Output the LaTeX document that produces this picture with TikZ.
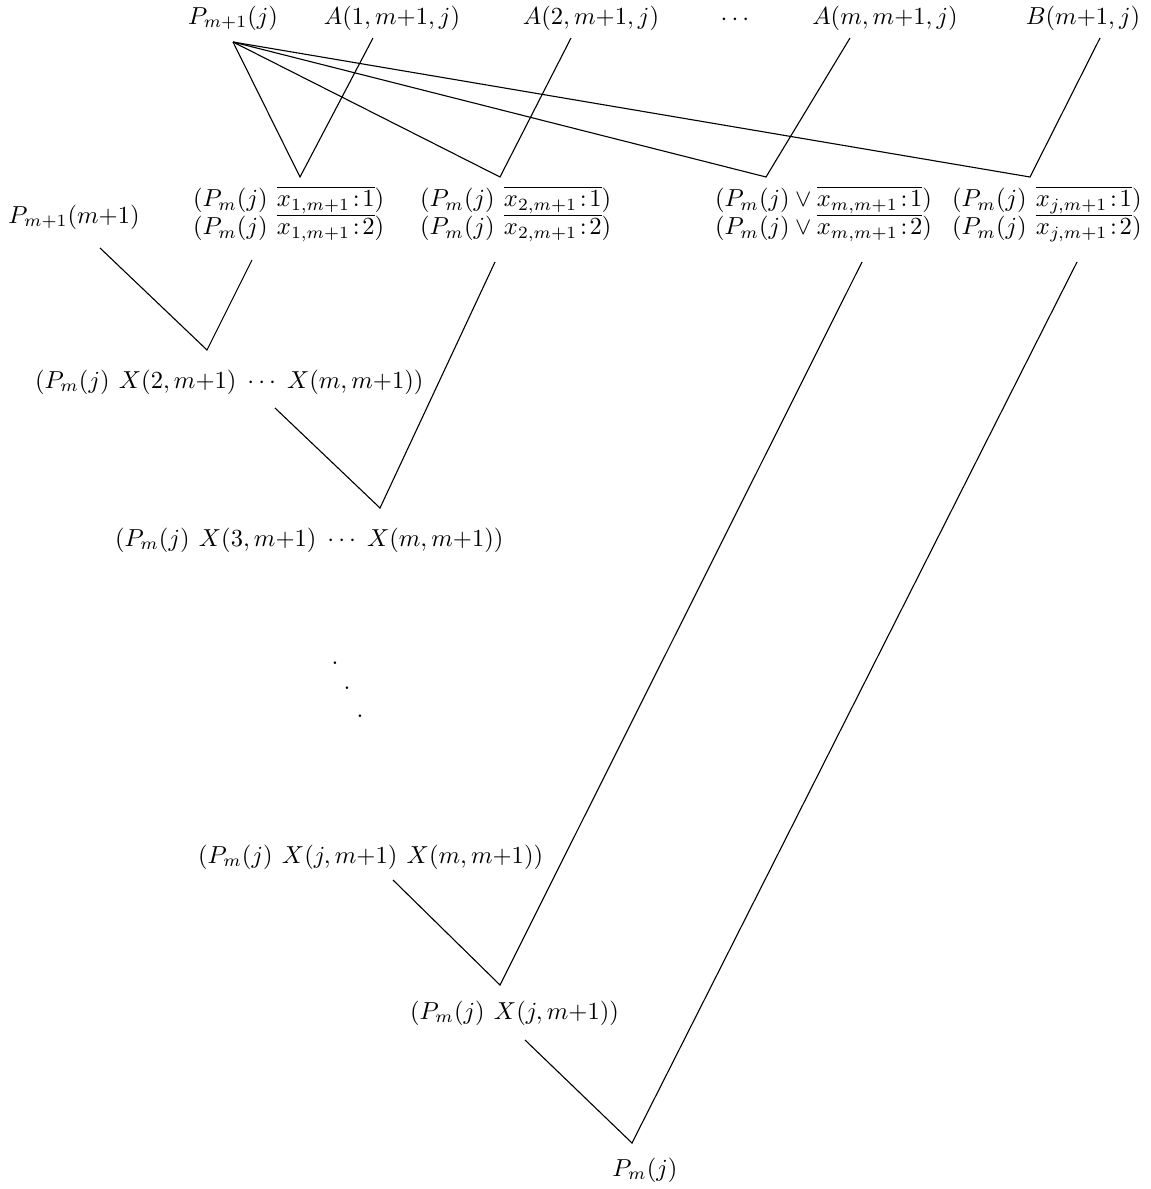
\documentclass[tikz,border=0pt]{standalone}
\newcommand\vgap{\hspace{3.8pt}}
\newcommand\clr{\mkern2mu{:}\mkern2mu}
\begin{document}
\begin{tikzpicture}[x=0.407pt,y=-0.407pt,
  lbl/.style={inner sep=0pt,outer sep=0pt},
  edge/.style={line width=0.45pt}]
\useasboundingbox (0,0) rectangle (1150,1189);
% top row
\node[lbl] (P1j) at (233,18) {$P_{m+1}(j)$};
\node[lbl] (A1) at (392,18) {$A(1,m{+}1,j)$};
\node[lbl] (A2) at (591,18) {$A(2,m{+}1,j)$};
\node[lbl] (tdots) at (735,20) {$\cdots$};
\node[lbl] (Am) at (885,18) {$A(m,m{+}1,j)$};
\node[lbl] (B) at (1083,18) {$B(m{+}1,j)$};
% second row
\node[lbl,anchor=west] (c1a) at (193,200) {$(P_m(j)\vgap\overline{x_{1,m+1}\clr 1})$};
\node[lbl,anchor=west] (c1b) at (193,228) {$(P_m(j)\vgap\overline{x_{1,m+1}\clr 2})$};
\node[lbl,anchor=west] (c2a) at (420,200) {$(P_m(j)\vgap\overline{x_{2,m+1}\clr 1})$};
\node[lbl,anchor=west] (c2b) at (420,228) {$(P_m(j)\vgap\overline{x_{2,m+1}\clr 2})$};
\node[lbl,anchor=west] (cma) at (715,200) {$(P_m(j)\vee\overline{x_{m,m+1}\clr 1})$};
\node[lbl,anchor=west] (cmb) at (715,228) {$(P_m(j)\vee\overline{x_{m,m+1}\clr 2})$};
\node[lbl,anchor=west] (cja) at (952,200) {$(P_m(j)\vgap\overline{x_{j,m+1}\clr 1})$};
\node[lbl,anchor=west] (cjb) at (952,228) {$(P_m(j)\vgap\overline{x_{j,m+1}\clr 2})$};
\node[lbl] (Pmm) at (74,217) {$P_{m+1}(m{+}1)$};
% lower nodes
\node[lbl,anchor=west] (X2) at (35,382) {$(P_m(j)\vgap X(2,m{+}1)\;\cdots\;X(m,m{+}1))$};
\node[lbl,anchor=west] (X3) at (115,540) {$(P_m(j)\vgap X(3,m{+}1)\;\cdots\;X(m,m{+}1))$};
\node[lbl] (d1) at (335,663) {.};
\node[lbl] (d2) at (347,688) {.};
\node[lbl] (d3) at (360,716) {.};
\node[lbl,anchor=west] (Xj) at (198,857) {$(P_m(j)\vgap X(j,m{+}1)\vgap X(m,m{+}1))$};
\node[lbl,anchor=west] (Xjj) at (410,1013) {$(P_m(j)\vgap X(j,m{+}1))$};
\node[lbl] (Pm) at (645,1170) {$P_m(j)$};
% coordinates
\coordinate (s0) at (233,42);
\coordinate (a1) at (373,38);
\coordinate (a2) at (571,38);
\coordinate (am) at (850,38);
\coordinate (ab) at (1100,38);
\coordinate (v1) at (300,177);
\coordinate (v2) at (500,177);
\coordinate (vm) at (766,177);
\coordinate (vb) at (1030,177);
\coordinate (p0) at (100,248);
\coordinate (q1) at (252,260);
\coordinate (w1) at (207,350);
\coordinate (x2s) at (275,408);
\coordinate (q2) at (495,262);
\coordinate (w2) at (380,508);
\coordinate (xjs) at (393,880);
\coordinate (qm) at (862,262);
\coordinate (w3) at (500,985);
\coordinate (xjjs) at (525,1040);
\coordinate (qj) at (1077,262);
\coordinate (w4) at (632,1143);
% edges
\draw[edge] (s0) -- (v1) -- (a1);
\draw[edge] (s0) -- (v2) -- (a2);
\draw[edge] (s0) -- (vm) -- (am);
\draw[edge] (s0) -- (vb) -- (ab);
\draw[edge] (p0) -- (w1) -- (q1);
\draw[edge] (x2s) -- (w2) -- (q2);
\draw[edge] (xjs) -- (w3) -- (qm);
\draw[edge] (xjjs) -- (w4) -- (qj);
\end{tikzpicture}
\end{document}
